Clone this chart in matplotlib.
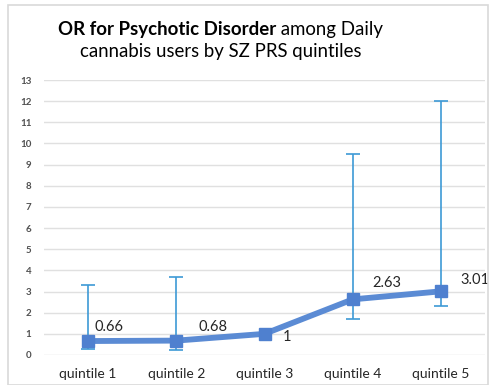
import matplotlib
matplotlib.use("Agg")
import matplotlib.pyplot as plt
from matplotlib.patches import Rectangle

categories = ["quintile 1", "quintile 2", "quintile 3", "quintile 4", "quintile 5"]
odds_ratio = [0.66, 0.68, 1.0, 2.63, 3.01]
ci_lower = [0.30, 0.25, 1.0, 1.70, 2.30]
ci_upper = [3.30, 3.70, 1.0, 9.50, 12.0]
value_labels = ["0.66", "0.68", "1", "2.63", "3.01"]
yticks = list(range(0, 14))

plt.rcParams['font.family'] = ['Lato', 'DejaVu Sans']

fig = plt.figure(figsize=(4.95, 3.85), dpi=100)
fig.patch.set_facecolor("white")
W, H = 495, 385
ax = fig.add_axes([44 / W, (H - 355) / H, (485 - 44) / W, (355 - 80) / H])

x = list(range(len(categories)))

for i in x:
    if ci_upper[i] > ci_lower[i]:
        ax.errorbar([i], [odds_ratio[i]],
                    yerr=[[odds_ratio[i] - ci_lower[i]], [ci_upper[i] - odds_ratio[i]]],
                    fmt='none', ecolor='#3d9ad6', elinewidth=1.2, capsize=5, capthick=1.2, zorder=2)

ax.plot(x, odds_ratio, color='#5b8bd4', lw=4.2, marker='s', markersize=8.5,
        markerfacecolor='#4f80cf', markeredgecolor='#4f80cf', zorder=3, solid_capstyle='round')

offsets = [(6, 14), (22, 14), (18, -3), (20, 16), (20, 11)]
for i, (lab, off) in enumerate(zip(value_labels, offsets)):
    ax.annotate(lab, (i, odds_ratio[i]), xytext=off, textcoords='offset pixels',
                fontsize=10.5, color='#262626', va='center', ha='left')

ax.set_xlim(-0.5, len(categories) - 0.5)
ax.set_ylim(0, 13)
ax.set_yticks(yticks)
ax.set_yticklabels([str(t) for t in yticks], fontsize=7, color='#505050', fontweight='bold')
ax.set_xticks(x)
ax.set_xticklabels(categories, fontsize=10, color='#262626')
ax.tick_params(axis='both', length=0)
ax.tick_params(axis='y', pad=9)
ax.tick_params(axis='x', pad=9)
ax.grid(axis='y', color='#e0e0e0', lw=1)
ax.set_axisbelow(True)
for s in ax.spines.values():
    s.set_visible(False)

fig.patches.append(Rectangle((8 / W, 0), (488 - 8) / W, (H - 5) / H, transform=fig.transFigure,
                             fill=False, edgecolor='#d9d9d9', lw=1.2))

t1 = fig.text(58 / W, 1 - 30 / H, "OR for Psychotic Disorder", fontsize=13.4,
              fontweight='bold', color='black', va='center', ha='left')
ax.annotate(" among Daily", xy=(1, 0), xycoords=t1, va='bottom', ha='left',
            fontsize=13.4, color='black', annotation_clip=False)
fig.text(221 / W, 1 - 52 / H, "cannabis users by SZ PRS quintiles", fontsize=13.4,
         color='black', va='center', ha='center')

fig.savefig("out.png", dpi=100)
